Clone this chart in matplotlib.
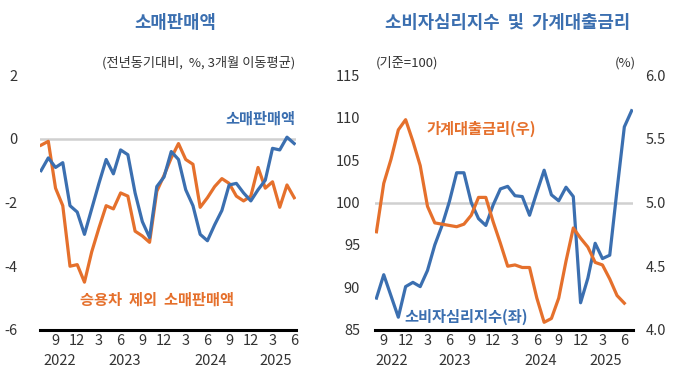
import matplotlib
matplotlib.use("Agg")
import matplotlib.pyplot as plt
import matplotlib.transforms as mtransforms

plt.rcParams['font.family'] = ['Noto Sans CJK KR', 'DejaVu Sans']

BLUE = '#3b6fb0'
ORANGE = '#e5702c'
TXT = '#333333'

# 소매판매액 (2022.7 ~ 2025.6, 전년동기대비 %, 3개월 이동평균)
retail = [-1.0, -0.6, -0.9, -0.75, -2.1, -2.3, -3.0, -2.2, -1.4, -0.65,
          -1.1, -0.35, -0.5, -1.7, -2.6, -3.1, -1.5, -1.2, -0.4, -0.65,
          -1.6, -2.1, -3.0, -3.2, -2.7, -2.25, -1.45, -1.4, -1.7, -1.95,
          -1.6, -1.3, -0.3, -0.35, 0.05, -0.15]
retail_ex_car = [-0.2, -0.08, -1.55, -2.1, -4.0, -3.95, -4.5, -3.55, -2.8, -2.1,
                 -2.2, -1.7, -1.8, -2.9, -3.05, -3.25, -1.65, -1.15, -0.6, -0.15,
                 -0.65, -0.8, -2.15, -1.85, -1.5, -1.25, -1.4, -1.8, -1.95, -1.8,
                 -0.9, -1.55, -1.35, -2.15, -1.45, -1.85]

# 소비자심리지수 (2022.8 ~ 2025.7), 가계대출금리 (2022.8 ~ 2025.6)
csi = [88.75, 91.5, 89.0, 86.5, 90.1, 90.6, 90.1, 92.0, 95.0, 97.3,
       100.1, 103.5, 103.5, 100.0, 98.1, 97.3, 99.7, 101.6, 101.9, 100.8,
       100.7, 98.5, 101.2, 103.8, 100.9, 100.2, 101.8, 100.7, 88.2, 91.1,
       95.2, 93.4, 93.8, 101.5, 108.9, 110.8]
loan_rate = [4.77, 5.15, 5.34, 5.57, 5.65, 5.48, 5.29, 4.97, 4.84, 4.83,
             4.82, 4.81, 4.83, 4.90, 5.04, 5.04, 4.85, 4.68, 4.50, 4.51,
             4.49, 4.49, 4.25, 4.06, 4.09, 4.25, 4.54, 4.80, 4.72, 4.65,
             4.53, 4.51, 4.40, 4.27, 4.21]

month_labels = ['9', '12', '3', '6', '9', '12', '3', '6', '9', '12', '3', '6']
years = ['2022', '2023', '2024', '2025']
# index of Sep 2022 in each panel, and where the year labels sit
left_first_tick, right_first_tick = 2, 1
left_year_pos = [2.6, 11.5, 23.5, 32.5]
right_year_pos = [2.1, 10.7, 22.6, 31.4]

fig = plt.figure(figsize=(6.8, 3.81), dpi=100)
ax1 = fig.add_axes([0.0588, 0.134, 0.376, 0.669])
ax2 = fig.add_axes([0.552, 0.134, 0.379, 0.669])


def style_axis(ax, first_tick, year_pos):
    for s in ['top', 'right', 'left']:
        ax.spines[s].set_visible(False)
    ax.spines['bottom'].set_color('black')
    ax.spines['bottom'].set_linewidth(2.2)
    ax.set_xticks([first_tick + 3 * i for i in range(len(month_labels))])
    ax.set_xticklabels(month_labels)
    ax.tick_params(axis='both', length=0, labelsize=10.5, colors=TXT)
    ax.tick_params(axis='x', pad=3)
    ax.set_xlim(-0.15, 35.2)
    trans = mtransforms.blended_transform_factory(ax.transData, ax.transAxes)
    for yr, xp in zip(years, year_pos):
        ax.text(xp, -0.095, yr, transform=trans, ha='center', va='top',
                fontsize=10.5, color=TXT)


# left panel
x1 = list(range(len(retail)))
ax1.axhline(0, color='#d0d0d0', lw=1.8, zorder=1)
ax1.plot(x1, retail_ex_car, color=ORANGE, lw=2.3, zorder=3)
ax1.plot(x1, retail, color=BLUE, lw=2.3, zorder=4)
ax1.set_ylim(-6, 2)
ax1.set_yticks([2, 0, -2, -4, -6])
ax1.set_yticklabels(['2', '0', '-2', '-4', '-6'])
style_axis(ax1, left_first_tick, left_year_pos)
ax1.tick_params(axis='y', pad=16)
ax1.text(1.0, 0.83, '소매판매액', transform=ax1.transAxes, ha='right',
         va='center', fontsize=11, color=BLUE, fontweight='bold')
ax1.text(0.155, 0.12, '승용차  제외  소매판매액', transform=ax1.transAxes,
         ha='left', va='center', fontsize=11, color=ORANGE, fontweight='bold')
ax1.text(1.0, 1.02, '(전년동기대비,  %, 3개월 이동평균)', transform=ax1.transAxes,
         ha='right', va='bottom', fontsize=9.5, color=TXT)
fig.text(0.257, 0.94, '소매판매액', ha='center', va='center', fontsize=12.8,
         color=BLUE, fontweight='bold')

# right panel
x_csi = list(range(len(csi)))
x_rate = list(range(len(loan_rate)))
ax2.axhline(100, color='#d0d0d0', lw=1.8, zorder=1)
ax2.plot(x_csi, csi, color=BLUE, lw=2.3, zorder=3)
ax2.set_ylim(85, 115)
ax2.set_yticks([85, 90, 95, 100, 105, 110, 115])
style_axis(ax2, right_first_tick, right_year_pos)
ax2.tick_params(axis='y', pad=11)

ax3 = ax2.twinx()
ax3.plot(x_rate, loan_rate, color=ORANGE, lw=2.3, zorder=2)
ax3.set_ylim(4.0, 6.0)
ax3.set_yticks([4.0, 4.5, 5.0, 5.5, 6.0])
ax3.set_yticklabels(['4.0', '4.5', '5.0', '5.5', '6.0'])
ax3.tick_params(axis='y', length=0, labelsize=10.5, colors=TXT, pad=9)
for s in ax3.spines.values():
    s.set_visible(False)
ax3.set_xlim(-0.15, 35.2)

ax3.text(0.113, 0.05, '소비자심리지수(좌)', transform=ax3.transAxes,
         ha='left', va='center', fontsize=11, color=BLUE, fontweight='bold')
ax3.text(0.2, 0.79, '가계대출금리(우)', transform=ax3.transAxes, ha='left',
         va='center', fontsize=11, color=ORANGE, fontweight='bold')
ax2.text(0.0, 1.02, '(기준=100)', transform=ax2.transAxes, ha='left',
         va='bottom', fontsize=9.5, color=TXT)
ax2.text(0.97, 1.02, '(%)', transform=ax2.transAxes, ha='center',
         va='bottom', fontsize=9.5, color=TXT)
fig.text(0.747, 0.94, '소비자심리지수  및  가계대출금리', ha='center',
         va='center', fontsize=12.8, color=BLUE, fontweight='bold')

fig.savefig('out.png', dpi=100)
